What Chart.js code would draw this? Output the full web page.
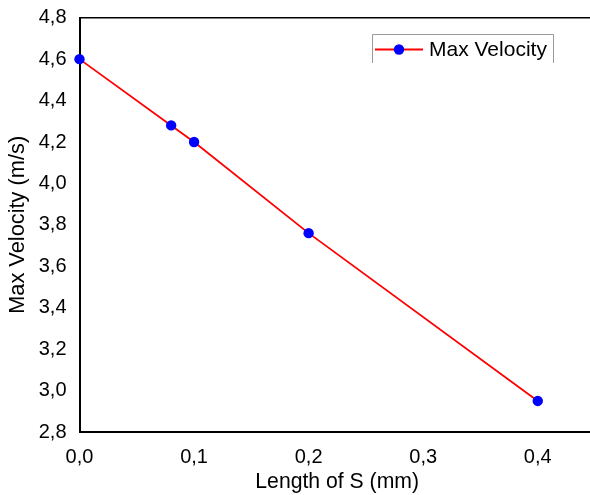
<!DOCTYPE html>
<html><head><meta charset="utf-8">
<script src="https://cdn.jsdelivr.net/npm/chart.js@4"></script>
<style>html,body{margin:0;padding:0;background:#fff;overflow:hidden}#wrap{width:600px;height:495px;overflow:hidden}</style>
</head><body><div id="wrap"><canvas id="c" width="600" height="495"></canvas></div>
<script>
const lengthS = [0.0, 0.08, 0.1, 0.2, 0.4];
const maxVelocity = [4.6, 4.28, 4.2, 3.76, 2.95];
const xTicks = [0.0, 0.1, 0.2, 0.3, 0.4];
const yTicks = [2.8, 3.0, 3.2, 3.4, 3.6, 3.8, 4.0, 4.2, 4.4, 4.6, 4.8];
const seriesName = 'Max Velocity';
const xTitle = 'Length of S (mm)';
const yTitle = 'Max Velocity (m/s)';

const FONT = 'Liberation Sans, Arial, sans-serif';
const fmt = v => v.toFixed(1).replace('.', ',');

const framePlugin = {
  id: 'frame',
  afterDraw(chart) {
    const {ctx, chartArea: a} = chart;
    ctx.save();
    ctx.strokeStyle = '#000';
    ctx.lineWidth = 1.5;
    ctx.beginPath(); ctx.moveTo(a.left, a.top); ctx.lineTo(a.right, a.top); ctx.stroke();
    // legend box
    const bx = 372, by = 34, bw = 181, bh = 29;
    ctx.strokeStyle = '#9a9a9a';
    ctx.lineWidth = 1;
    ctx.beginPath();
    ctx.moveTo(bx + 0.5, by + bh); ctx.lineTo(bx + 0.5, by + 0.5);
    ctx.lineTo(bx + bw + 0.5, by + 0.5); ctx.lineTo(bx + bw + 0.5, by + bh);
    ctx.stroke();
    const ly = by + 15.5;
    ctx.strokeStyle = '#ff0000'; ctx.lineWidth = 1.8;
    ctx.beginPath(); ctx.moveTo(375, ly); ctx.lineTo(423, ly); ctx.stroke();
    ctx.fillStyle = '#0000ff';
    ctx.beginPath(); ctx.arc(399, ly, 5.2, 0, Math.PI * 2); ctx.fill();
    ctx.fillStyle = '#000';
    ctx.font = '21px ' + FONT;
    ctx.textBaseline = 'middle';
    ctx.textAlign = 'left';
    ctx.fillText(seriesName, 429, ly + 1);
    ctx.restore();
  }
};

new Chart(document.getElementById('c'), {
  type: 'scatter',
  data: {
    datasets: [{
      label: seriesName,
      data: lengthS.map((x, i) => ({x, y: maxVelocity[i]})),
      showLine: true,
      borderColor: '#ff0000',
      borderWidth: 1.8,
      backgroundColor: '#0000ff',
      pointBackgroundColor: '#0000ff',
      pointBorderWidth: 0,
      pointRadius: 5.2,
      clip: false
    }]
  },
  options: {
    responsive: false,
    animation: false,
    layout: {padding: {left: 0, top: 17.7, right: 0, bottom: 0}},
    plugins: {legend: {display: false}, tooltip: {enabled: false}},
    scales: {
      x: {
        type: 'linear', min: 0, max: 0.4498,
        afterBuildTicks: s => { s.ticks = xTicks.map(v => ({value: v})); },
        afterFit: s => { s.height = 63; s.paddingLeft = 0; s.paddingRight = 0; },
        grid: {display: false, drawTicks: false},
        border: {display: true, color: '#000', width: 2},
        ticks: {color: '#000', font: {family: FONT, size: 20}, padding: 13, maxRotation: 0, callback: v => fmt(v)},
        title: {display: true, text: xTitle, color: '#000', font: {family: FONT, size: 21.2}, padding: {top: 1, bottom: 0}}
      },
      y: {
        type: 'linear', min: 2.8, max: 4.8,
        afterBuildTicks: s => { s.ticks = yTicks.map(v => ({value: v})); },
        afterFit: s => { s.width = 79.5; s.paddingTop = 0; s.paddingBottom = 0; },
        grid: {display: false, drawTicks: false},
        border: {display: true, color: '#000', width: 2},
        ticks: {color: '#000', font: {family: FONT, size: 20}, padding: 13, callback: v => fmt(v)},
        title: {display: true, text: yTitle, color: '#000', font: {family: FONT, size: 21.8}, padding: {top: 5, bottom: 4}}
      }
    }
  },
  plugins: [framePlugin]
});
</script></body></html>
